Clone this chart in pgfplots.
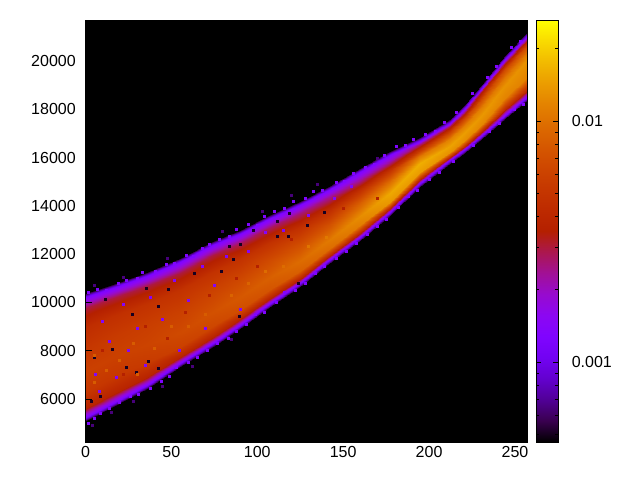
\documentclass[border=0pt]{standalone}
\usepackage{fontspec}
\setmainfont{Liberation Sans}
\usepackage{pgfplots}
\usepackage{pgfplotstable}
\pgfplotsset{compat=1.18}
\pgfplotsset{
 colormap={gp}{rgb=(0,0,0) rgb=(.224,0,.309) rgb=(.316,.001,.588) rgb=(.387,.003,.809) rgb=(.447,.008,.951) rgb=(.5,.016,1) rgb=(.548,.027,.951) rgb=(.592,.043,.809) rgb=(.632,.064,.588) rgb=(.671,.091,.309) rgb=(.707,.125,0) rgb=(.742,.166,0) rgb=(.775,.216,0) rgb=(.806,.275,0) rgb=(.837,.343,0) rgb=(.866,.422,0) rgb=(.894,.512,0) rgb=(.922,.614,0) rgb=(.949,.729,0) rgb=(.975,.857,0) rgb=(1,1,0)},
 every axis/.append style={font=\fontsize{16}{18}\selectfont, line width=0.9pt, /pgf/number format/assume math mode=true},
}
% x, y, c (c = position on the logarithmic colour bar, 0..1)
\pgfplotstableread{
x y c
0 5089 0
0 5254 .25
0 5627 .52
0 6290 .6
0 7119 .63
0 8051 .6
0 8983 .56
0 9770 .46
0 10226 .25
0 10392 0
16 5669 0
16 5834 .25
16 6215 .52
16 6882 .6
16 7740 .63
16 8598 .61
16 9455 .57
16 10168 .46
16 10599 .25
16 10764 0
36 6414 0
36 6580 .25
36 6911 .52
36 7491 .61
36 8237 .64
36 9095 .62
36 9952 .58
36 10665 .46
36 11096 .25
36 11262 0
55 7326 0
55 7491 .25
55 7740 .52
55 8175 .63
55 8734 .66
55 9617 .63
55 10499 .58
55 11233 .46
55 11676 .25
55 11842 0
74 8154 0
74 8320 .25
74 8577 .52
74 9029 .65
74 9604 .68
74 10437 .64
74 11270 .58
74 11966 .46
74 12380 .25
74 12546 0
90 8900 0
90 9066 .25
90 9298 .52
90 9704 .67
90 10226 .7
90 11009 .65
90 11792 .58
90 12442 .44
90 12836 .25
90 13002 0
107 9770 0
107 9936 .25
107 10151 .52
107 10528 .69
107 11013 .72
107 11746 .66
107 12480 .58
107 13097 .44
107 13457 .25
107 13623 0
125 10640 0
125 10806 .25
125 10988 .52
125 11307 .72
125 11717 .75
125 12413 .67
125 13110 .57
125 13689 .42
125 14037 .25
125 14203 0
142 11593 0
142 11759 .25
142 11924 .54
142 12215 .75
142 12587 .78
142 13209 .68
142 13830 .56
142 14348 .4
142 14659 .25
142 14825 0
160 12546 0
160 12712 .25
160 12886 .54
160 13188 .79
160 13582 .82
160 14129 .72
160 14676 .57
160 15131 .38
160 15405 .25
160 15570 0
177 13582 0
177 13747 .25
177 13905 .55
177 14178 .84
177 14535 .87
177 15007 .76
177 15479 .58
177 15873 .38
177 16109 .25
177 16275 0
195 14783 0
195 14949 .25
195 15115 .55
195 15405 .85
195 15777 .88
195 16051 .78
195 16325 .6
195 16552 .42
195 16689 .25
195 16855 0
212 15736 0
212 15902 .25
212 16018 .55
212 16221 .83
212 16482 .86
212 16768 .8
212 17054 .64
212 17290 .45
212 17435 .25
212 17600 0
221 16192 0
221 16358 .25
221 16498 .55
221 16743 .82
221 17062 .85
221 17360 .79
221 17659 .65
221 17907 .45
221 18056 .25
221 18222 0
230 16731 0
230 16896 .25
230 17062 .55
230 17352 .81
230 17725 .84
230 18060 .79
230 18396 .67
230 18711 .47
230 18843 .25
230 19009 0
244 17600 0
244 17766 .25
244 18015 .55
244 18450 .8
244 19009 .83
244 19332 .77
244 19655 .66
244 19925 .47
244 20086 .25
244 20252 0
257 18346 0
257 18512 .25
257 18819 .55
257 19353 .8
257 20045 .83
257 20343 .77
257 20642 .66
257 20890 .47
257 21039 .25
257 21205 0
}\dens
% single bins: fringe, dark, purple, bright and deep red ones
\pgfplotstableread{
x y c
2 10420 .25
7 10540 .25
12 10500 .25
19 10800 .25
24 10900 .25
30 11000 .25
33 11230 .25
41 11300 .25
47 11560 .25
52 11600 .25
59 11950 .25
63 11900 .25
68 12250 .25
72 12420 .25
78 12600 .25
84 12750 .25
88 13020 .25
95 13230 .25
100 13200 .25
104 13560 .25
110 13780 .25
116 13900 .25
121 14200 .25
128 14300 .25
133 14580 .25
138 14620 .25
146 14950 .25
151 15000 .25
156 15350 .25
163 15600 .25
168 15700 .25
174 16100 .25
181 16450 .25
186 16500 .25
191 16750 .25
198 16950 .25
204 17100 .25
209 17450 .25
216 17880 .25
225 18650 .25
234 19300 .25
239 19780 .25
248 20550 .25
253 20800 .25
2 5000 .25
5 5180 .25
9 5420 .25
14 5600 .25
20 5850 .25
26 6100 .25
31 6180 .25
38 6430 .25
44 6720 .25
49 6950 .25
53 7300 .25
60 7500 .25
65 7700 .25
71 8000 .25
77 8280 .25
83 8520 .25
88 8800 .25
94 9100 .25
99 9500 .25
104 9600 .25
111 10000 .25
116 10400 .25
122 10500 .25
128 10800 .25
134 11200 .25
139 11480 .25
146 11800 .25
152 12100 .25
158 12450 .25
164 12800 .25
170 13150 .25
175 13450 .25
182 13950 .25
188 14400 .25
193 14650 .25
200 15100 .25
206 15400 .25
214 15850 .25
226 16500 .25
235 17100 .25
241 17400 .25
250 18000 .25
255 18200 .25
4 4900 .08
15 5450 .08
28 5900 .08
45 6500 .08
62 7350 .08
85 8450 .08
5 10700 .08
22 11050 .08
48 11800 .08
80 12950 .08
103 13750 .08
135 14900 .08
170 15950 .08
120 14450 .08
11.6 10130 .02
27.2 9480 .02
42.5 9824 .02
48.4 10516 .02
35.4 10586 .02
24.1 7313 .02
29.5 7106 .02
36.7 7562 .02
42.5 7272 .02
3.3 5888 .02
8.6 6095 .02
5.2 7711 .02
15.9 8071 .02
63.5 11179 .02
79 11262 .02
86.2 11759 .02
83.9 12310 .02
97.9 12960 .02
112 13345 .02
118.9 13694 .02
112 12724 .02
117.9 12724 .02
129 13168 .02
139.3 13735 .02
90.1 12410 .02
123.7 10793 .02
89.7 9410 .02
10 9200 .27
14 8400 .27
22 9900 .27
30 8900 .27
38 10200 .27
45 9300 .27
52 10900 .27
60 10100 .27
68 11500 .27
75 10700 .27
82 11900 .27
95 12100 .27
105 12900 .27
115 13000 .27
130 13600 .27
145 14300 .27
155 14800 .27
8 6300 .27
18 6900 .27
35 7400 .27
55 8000 .27
70 8900 .27
90 9700 .27
6 7000 .27
25 8000 .27
5 7800 .71
12 7200 .71
20 7600 .71
28 8300 .71
40 8100 .71
50 9000 .71
60 9000 .71
70 9500 .71
85 10300 .73
95 10800 .73
105 11300 .75
115 11500 .75
130 12300 .77
140 12700 .78
5 6700 .71
30 7000 .71
10 8000 .5
22 7000 .5
35 9000 .5
48 8500 .5
58 9600 .5
72 10300 .5
88 11000 .5
100 11500 .5
120 12600 .5
150 13900 .5
170 14300 .5
}\specks
\begin{document}
\begin{tikzpicture}
\path[use as bounding box] (0pt,0pt) rectangle (640pt,480pt);
\begin{axis}[
 at={(85.5pt,38pt)}, anchor=south west, scale only axis,
 width=441.5pt, height=422pt,
 xmin=0, xmax=257, ymin=4219, ymax=21700,
 axis background/.style={fill=black},
 axis on top,
 xtick={0,50,100,150,200,250},
 ytick={6000,8000,10000,12000,14000,16000,18000,20000},
 scaled ticks=false,
 /pgf/number format/1000 sep={},
 tick align=inside, xtick pos=bottom, ytick pos=left,
 major tick length=6pt,
 tick style={black,line width=0.8pt},
 colormap name=gp, point meta min=0, point meta max=1,
 xticklabel style={yshift=-1pt}, yticklabel style={xshift=-6pt},
]
\addplot[surf, shader=interp, mesh/rows=17, mesh/cols=10, mesh/ordering=x varies, point meta=\thisrow{c}] table[x=x,y=y] {\dens};
\addplot[scatter, only marks, mark=square*, mark size=1pt, line width=0pt,
  scatter src=explicit, scatter/use mapped color={draw=mapped color,fill=mapped color}]
  table[x=x,y=y,meta=c] {\specks};
\end{axis}
\begin{axis}[
 at={(536pt,38pt)}, anchor=south west, scale only axis,
 width=22pt, height=422pt,
 xmin=0, xmax=1, ymode=log, ymin=0.000466, ymax=0.0262,
 axis on top,
 xtick=\empty,
 ytick={0.001,0.01}, yticklabels={0.001,0.01},
 minor ytick={0.0005,0.0006,0.0007,0.0008,0.0009,0.002,0.003,0.004,0.005,0.006,0.007,0.008,0.009,0.02},
 tick align=inside, ytick pos=both, yticklabel pos=right,
 major tick length=5pt, minor tick length=3pt,
 tick style={black,line width=0.7pt},
 colormap name=gp, point meta min=0, point meta max=1,
 yticklabel style={xshift=10pt},
]
\addplot[surf, shader=interp, mesh/rows=2, mesh/cols=2, point meta=\thisrow{c}] table[x=x,y=y] {
x y c
0 0.000466 0
1 0.000466 0
0 0.0262 1
1 0.0262 1
};
\end{axis}
\end{tikzpicture}
\end{document}
